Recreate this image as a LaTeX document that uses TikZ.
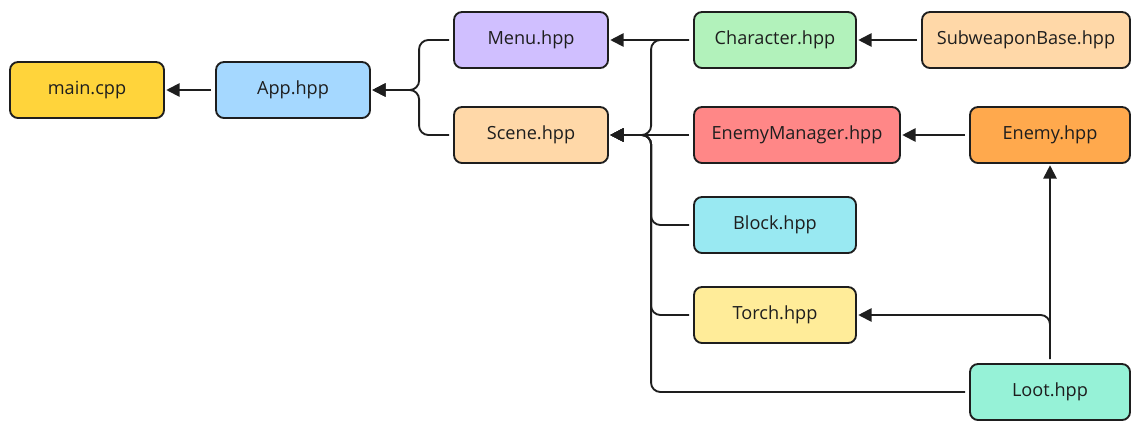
\documentclass[tikz,border=0pt]{standalone}
\usepackage{fontspec}
\setmainfont{Open Sans}
\usetikzlibrary{arrows.meta}
\definecolor{ink}{HTML}{1E1E1E}
\definecolor{cmain}{HTML}{FFD43B}
\definecolor{capp}{HTML}{A5D8FF}
\definecolor{cmenu}{HTML}{D0BFFF}
\definecolor{cscene}{HTML}{FFD8A8}
\definecolor{cchar}{HTML}{B2F2BB}
\definecolor{cenmgr}{HTML}{FF8787}
\definecolor{cenemy}{HTML}{FFA94D}
\definecolor{cblock}{HTML}{99E9F2}
\definecolor{ctorch}{HTML}{FFEC99}
\definecolor{cloot}{HTML}{96F2D7}
\tikzset{
  file/.style={draw=ink, line width=1.4pt, rounded corners=6pt, inner sep=0pt,
    minimum height=42pt, font=\fontsize{13.6}{16}\selectfont, text=ink},
  dep/.style={draw=ink, line width=1.4pt, rounded corners=7pt,
    -{Triangle[length=10pt,width=10pt]}, shorten <=3pt, shorten >=1pt}
}
\begin{document}
\begin{tikzpicture}[x=0.75pt,y=-0.75pt]
\useasboundingbox (0,0) rectangle (1141,430);
\node[file, fill=cmain, minimum width=115.5pt] (main) at (87,90){main.cpp};
\node[file, fill=capp, minimum width=115.5pt] (App) at (293,90){App.hpp};
\node[file, fill=cmenu, minimum width=115.5pt] (Menu) at (531,40){Menu.hpp};
\node[file, fill=cscene, minimum width=115.5pt] (Scene) at (531,135){Scene.hpp};
\node[file, fill=cchar, minimum width=121.5pt] (Character) at (775,40){Character.hpp};
\node[file, fill=cscene, minimum width=156pt] (Subweapon) at (1026,40){SubweaponBase.hpp};
\node[file, fill=cenmgr, minimum width=154.5pt] (EnemyManager) at (797,135){EnemyManager.hpp};
\node[file, fill=cenemy, minimum width=120pt] (Enemy) at (1050,135){Enemy.hpp};
\node[file, fill=cblock, minimum width=121.5pt] (Block) at (775,225){Block.hpp};
\node[file, fill=ctorch, minimum width=121.5pt] (Torch) at (775,315){Torch.hpp};
\node[file, fill=cloot, minimum width=120pt] (Loot) at (1050,392){Loot.hpp};

\draw[dep] (App) -- (main);
\draw[dep] (Menu.west) -- ++(-34,0) |- (App.east);
\draw[dep] (Scene.west) -- ++(-34,0) |- (App.east);
\draw[dep] (Character.west) -- (Menu.east);
\draw[dep] (Character.west) -- ++(-42,0) |- (Scene.east);
\draw[dep] (EnemyManager.west) -- (Scene.east);
\draw[dep] (Block.west) -- ++(-42,0) |- (Scene.east);
\draw[dep] (Torch.west) -- ++(-42,0) |- (Scene.east);
\draw[dep] (Loot.west) -- ++(-318,0) |- (Scene.east);
\draw[dep] (Subweapon) -- (Character);
\draw[dep] (Enemy) -- (EnemyManager);
\draw[dep] (Loot.north) -- (Enemy.south);
\draw[dep] (Loot.north) |- (Torch.east);

\end{tikzpicture}
\end{document}
